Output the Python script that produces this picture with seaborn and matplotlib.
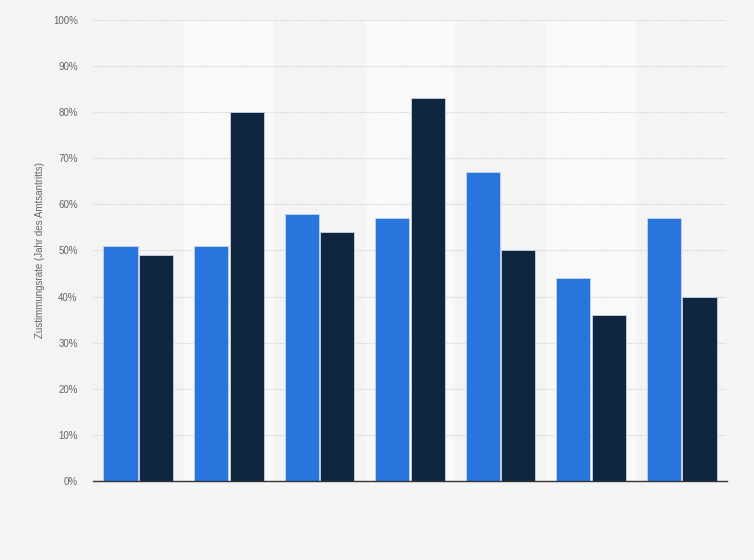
import matplotlib
matplotlib.use("Agg")
import matplotlib.pyplot as plt
import seaborn as sns
import pandas as pd
from matplotlib.ticker import FuncFormatter, MultipleLocator

categories = ["1", "2", "3", "4", "5", "6", "7"]
series_names = ["Serie A", "Serie B"]
values_a = [51, 51, 58, 57, 67, 44, 57]
values_b = [49, 80, 54, 83, 50, 36, 40]
ylabel = "Zustimmungsrate (Jahr des Amtsantritts)"

df = pd.DataFrame({
    "cat": categories * 2,
    "series": [series_names[0]] * len(categories) + [series_names[1]] * len(categories),
    "value": values_a + values_b,
})

sns.set_theme(style="white")
plt.rcParams['font.family'] = ['Liberation Sans', 'DejaVu Sans']

bg = "#f4f4f4"
fig = plt.figure(figsize=(7.54, 5.6), dpi=100, facecolor=bg)
ax = fig.add_axes([93/754, 79/560, (727-93)/754, (481-20)/560])
ax.set_facecolor(bg)

for i in range(len(categories)):
    if i % 2 == 1:
        ax.axvspan(i - 0.5, i + 0.5, color="#f9f9f9", zorder=0, lw=0)

sns.barplot(data=df, x="cat", y="value", hue="series", order=categories,
            hue_order=series_names, palette=["#2876dd", "#0f2640"],
            saturation=1, width=0.785, gap=0.04, ax=ax, legend=False, zorder=3,
            edgecolor="#c8d4e4", linewidth=0.6)

ax.set_xlim(-0.5, len(categories) - 0.5)
ax.set_ylim(0, 100)
ax.yaxis.set_major_locator(MultipleLocator(10))
ax.yaxis.set_major_formatter(FuncFormatter(lambda v, p: f"{int(v)}%"))
ax.grid(axis="y", color="#d2d2d2", linestyle=(0, (1, 1)), linewidth=0.8, zorder=1)
ax.set_axisbelow(True)
ax.set_xticks(range(len(categories)))
ax.set_xticklabels([])
ax.tick_params(axis="x", length=0)
ax.tick_params(axis="y", length=0, pad=11, labelsize=7, labelcolor="#666666")
ax.set_xlabel("")
ax.set_ylabel(ylabel, fontsize=7, color="#666666")
ax.yaxis.set_label_coords(-(93 - 45) / (727 - 93), 0.5)
for s in ["top", "right", "left"]:
    ax.spines[s].set_visible(False)
ax.spines["bottom"].set_color("#333333")
ax.spines["bottom"].set_linewidth(1)
ax.spines["bottom"].set_zorder(5)

fig.savefig("out.png", dpi=100, facecolor=bg)
